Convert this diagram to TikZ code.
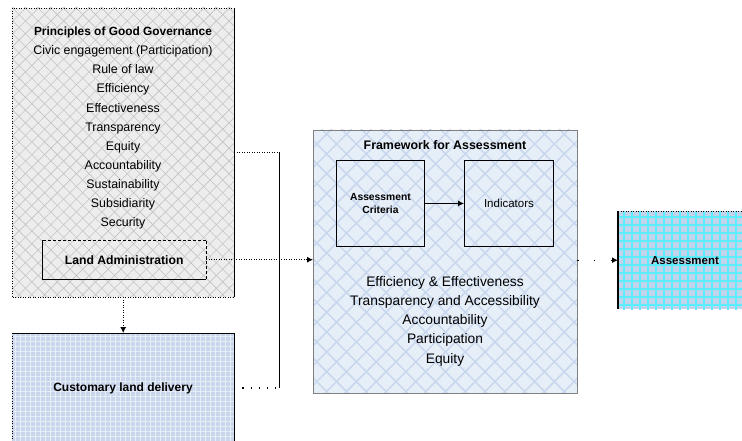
\documentclass[tikz,border=0pt]{standalone}
\usepackage{fontspec}
\setmainfont{Liberation Sans}
\usetikzlibrary{patterns.meta,arrows.meta}
\definecolor{govfill}{HTML}{EDEDED}
\definecolor{govpat}{HTML}{C4C4C4}
\definecolor{custfill}{HTML}{C9D6EC}
\definecolor{custpat}{HTML}{E8EEF8}
\definecolor{fwfill}{HTML}{E6EEF8}
\definecolor{fwpat}{HTML}{C8D7EE}
\definecolor{asfill}{HTML}{C2D4EA}
\definecolor{aspat}{HTML}{5CEEFF}
\tikzset{
  box/.style={anchor=north west, inner sep=0pt, draw=none},
  tip/.style={-{Latex[length=6pt,width=6pt]}},
  dotline/.style={line width=0.9pt, dash pattern=on 0.9pt off 1.6pt},
  sparse/.style={line width=1.2pt, dash pattern=on 1.2pt off 7pt},
  verysparse/.style={line width=1.2pt, dash pattern=on 1.2pt off 15.5pt},
  txt/.style={font=\fontsize{11}{13}\selectfont, inner sep=0pt},
}
\begin{document}
\begin{tikzpicture}[x=1pt,y=-1pt]
\useasboundingbox (0,0) rectangle (742,441);

% ---------- Principles box ----------
\node[box, minimum width=222pt, minimum height=289pt] (gov) at (12,8) {};
\fill[govfill] (gov.north west) rectangle (gov.south east);
\fill[pattern={Lines[angle=45,distance=9pt,line width=0.6pt]}, pattern color=govpat] (gov.north west) rectangle (gov.south east);
\fill[pattern={Lines[angle=-45,distance=9pt,line width=0.6pt]}, pattern color=govpat] (gov.north west) rectangle (gov.south east);
\draw[dotline] (gov.north east) -- (gov.north west) -- (gov.south west) -- (gov.south east);
\draw[line width=1.6pt] (gov.north east) -- (gov.south east);

\node[txt, align=center, anchor=north, font=\fontsize{12.4}{19.05}\selectfont] (govtext) at (123,27)
 {{\fontsize{11.9}{19.05}\selectfont\bfseries Principles of Good Governance}\\
  Civic engagement (Participation)\\
  Rule of law\\
  Efficiency\\
  Effectiveness\\
  Transparency\\
  Equity\\
  Accountability\\
  Sustainability\\
  Subsidiarity\\
  Security};

% Land Administration
\node[box, minimum width=164pt, minimum height=39pt] (la) at (42,240) {};
\draw[line width=0.9pt, dash pattern=on 3pt off 2pt] (la.south east) -- (la.north east) -- (la.north west);
\draw[line width=0.9pt] (la.north west) -- (la.south west) -- (la.south east);
\node[txt, font=\bfseries\fontsize{12.2}{14}\selectfont] (latext) at (la.center) {Land Administration};

% ---------- Customary box ----------
\node[box, minimum width=222pt, minimum height=112pt] (cust) at (12,333) {};
\fill[custfill] (cust.north west) rectangle (cust.south east);
\fill[pattern={Hatch[angle=0,distance=5pt,line width=0.7pt]}, pattern color=custpat] (cust.north west) rectangle (cust.south east);
\draw[line width=0.6pt] (cust.north west) -- (cust.north east);
\draw[dotline] (cust.north west) -- (cust.south west);
\draw[line width=1.6pt] (cust.north east) -- (cust.south east);
\node[txt, font=\bfseries\fontsize{12}{14}\selectfont] (custtext) at (123,388) {Customary land delivery};

% ---------- Framework box ----------
\node[box, minimum width=264pt, minimum height=263pt] (fw) at (313,130) {};
\fill[fwfill] (fw.north west) rectangle (fw.south east);
\fill[pattern={Lines[angle=45,distance=14pt,line width=1.5pt]}, pattern color=fwpat] (fw.north west) rectangle (fw.south east);
\fill[pattern={Lines[angle=-45,distance=14pt,line width=1.5pt]}, pattern color=fwpat] (fw.north west) rectangle (fw.south east);
\draw[gray, line width=0.8pt] (fw.north west) rectangle (fw.south east);
\node[txt, font=\bfseries\fontsize{12.4}{14}\selectfont] (fwtitle) at (445,145) {Framework for Assessment};

\node[box, draw=black, line width=0.9pt, minimum width=88pt, minimum height=86pt] (crit) at (336,160) {};
\node[txt, align=center, font=\bfseries\fontsize{10.3}{13}\selectfont] (crittext) at (crit.center) {Assessment\\Criteria};
\node[box, draw=black, line width=0.9pt, minimum width=89pt, minimum height=86pt] (ind) at (464,160) {};
\node[txt, font=\fontsize{11.5}{13}\selectfont] (indtext) at (ind.center) {Indicators};
\draw[tip, line width=0.9pt] (crit.east) -- (ind.west);

\node[txt, align=center, anchor=north, font=\fontsize{13.8}{19.2}\selectfont] (fwtext) at (445,276)
 {Efficiency \& Effectiveness\\
  Transparency and Accessibility\\
  Accountability\\
  Participation\\
  Equity};

% ---------- Assessment box ----------
\node[box, minimum width=124pt, minimum height=98pt] (as) at (618,211) {};
\fill[asfill] (as.north west) rectangle (as.south east);
\fill[pattern={Hatch[angle=0,distance=8pt,line width=2pt]}, pattern color=aspat] (as.north west) rectangle (as.south east);
\draw[dotline] (as.north west) -- (as.north east);
\draw[line width=1.6pt] (as.north west) -- (as.south west);
\node[txt, font=\bfseries\fontsize{11.5}{14}\selectfont] (astext) at (685,261) {Assessment};

% ---------- Connectors ----------
\coordinate (j1) at (279,152);
\coordinate (j2) at (279,388);
\draw[dotline] (gov.east |- j1) -- (j1);
\draw[line width=1pt] (j1) -- (j2);
\draw[sparse] ([xshift=8pt]cust.east |- j2) -- (j2);
\draw[dotline, tip] (la.east) -- (fw.west |- la.east);
\draw[dotline, tip] (gov.south) -- (cust.north);
\draw[verysparse, tip] (fw.east |- as.west) -- (as.west);
\end{tikzpicture}
\end{document}
